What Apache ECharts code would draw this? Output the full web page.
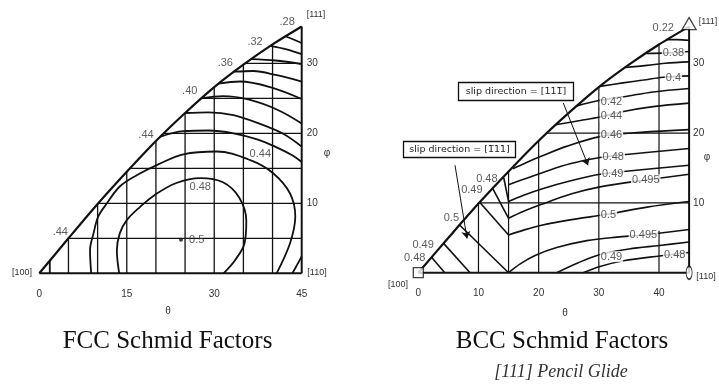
<!DOCTYPE html>
<html><head><meta charset="utf-8">
<script src="https://cdn.jsdelivr.net/npm/echarts@6/dist/echarts.min.js"></script>
<style>html,body{margin:0;padding:0;background:#fff}#c{width:719px;height:386px}</style>
</head><body><div id="c"></div>
<script>
// ---------- shared tick labels ----------
const fccThetaTicks = [0, 15, 30, 45];
const bccThetaTicks = [0, 10, 20, 30, 40];
const phiTicks = [10, 20, 30];

// ---------- stereographic triangle boundary ([100] -> [111]) ----------
const hypotenuse = [[0,0],[5,5.0],[10,9.9],[15,14.5],[20,18.9],[25,22.9],[30,26.6],[35,29.8],[40,32.7],[45,35.26]];
const baseEdge = [[0,0],[45,0]];
const rightEdge = [[45,0],[45,35.26]];

// ---------- FCC grid lines (theta, top phi) and (phi, start theta) ----------
const fccGridV = [[5,5.0],[10,9.9],[15,14.5],[20,18.9],[25,22.9],[30,26.6],[35,29.8],[40,32.7]];
const fccGridH = [[5,5.0],[10,10.2],[15,15.5],[20,21.3],[25,27.8],[30,35.3]];

// ---------- FCC contours ----------
const fccA1 = [[42.1,33.9],[43.6,33.4],[45,32.9]];
const fccA2 = [[39.6,32.5],[42.4,32.0],[45,31.3]];
const fccA3 = [[36.4,30.6],[40.5,30.4],[45,29.9]];
const fccA4 = [[33.3,28.8],[36.7,28.9],[40.7,28.3],[45,27.4]];
const fccA5 = [[30.7,27.1],[34.4,27.4],[39.6,26.6],[45,24.9]];
const fccA6 = [[27.8,25.0],[31.5,25.3],[36,24.8],[41,23.3],[45,21.4]];
const fccA7 = [[25,22.9],[29,23.0],[33.3,22.6],[38,21.3],[41.9,19.9],[45,18.1]];
const fccA8 = [[20.7,19.5],[24.7,20.3],[29,20.4],[33.3,20],[37.5,19.1],[40.7,18.0],[43.3,16.9],[45,15.9]];
const fcc046 = [[8.9,0],[8.7,3.3],[9.3,5.7],[10.1,8.1],[11.6,10],[13.8,12.4],[16.7,14],[20.5,15.6],[24.7,17],[30.4,17.4],[36.1,16.2],[40.1,14.3],[43,11.4],[43.9,8.1],[43,4.3],[40.7,0]];
const fcc048 = [[13.7,0],[13.3,3.3],[13.8,5.7],[15,7.6],[17.3,9.5],[19.8,11.2],[23.5,12.9],[27.6,13.6],[31.5,13],[34.3,10.8],[35.5,7.5],[35.2,4.3],[33.5,1.8],[31.6,0]];
const fccCorner110 = [[43.4,0],[44.2,1.2],[45,2.4]];
const fccCorner100 = [[1.8,0],[1.8,1.75]];
const fccMax = [[24.3,4.8]];
// label text, theta, phi, boxed
const fccLabels = [['.28',42.5,35.9,0],['.32',37,33.1,0],['.36',31.9,30.0,0],['.40',25.8,26.1,0],['.44',18.3,19.8,0],['.44',3.6,5.9,0],
  ['0.44',37.9,17.1,1],['0.48',27.6,12.3,1],['0.5',27.0,4.8,0]];

// ---------- BCC grid ----------
const bccGridV = [[10,0,10.0],[15,0,14.6],[20,0,18.9],[30,0,26.6],[40,0,6.0],[40,12.8,32.7]];
const bccGridH = [[10,10.2],[20,21.3]];

// ---------- BCC contours ----------
const bccB0 = [[41.2,33.4],[43,33.4],[45,33.3]];
const bccB1 = [[37.9,31.4],[41.3,31.5],[45,31.7]];
const bccB2 = [[34.3,29.4],[38,29.7],[41,30.0],[45,30.2]];
const bccB3 = [[30.2,26.7],[34,27.2],[37.4,27.6],[40.7,28.0],[45,28.2]];
const bccB4 = [[26.3,23.9],[30.2,24.7],[34.1,25.2],[39,25.9],[45,26.4]];
const bccB5 = [[22.8,21.2],[26.9,21.8],[30.2,22.3],[34.1,23.1],[39,23.8],[45,24.3]];
const bccR1 = [[15.7,14.9],[18,15.8],[20.2,16.6],[24.6,18.1],[30.2,19.5],[37,20.1],[45,20.5]];
const bccR2 = [[15,12.6],[17.5,13.4],[20.5,14.3],[25.2,15.6],[30.2,16.5],[34.1,16.9],[45,17.8]];
const bccR3 = [[15,10.2],[17.5,11.1],[20.5,12.0],[25.5,13.2],[30.2,14.1],[34.1,14.5],[45,15.4]];
const bccR4 = [[15,7.8],[17.5,8.8],[20.5,9.8],[25.5,11.3],[30.2,12.3],[37.9,13.3],[45,14.1]];
const bccR5 = [[15,5.4],[17.5,6.1],[20.5,6.8],[25.5,7.6],[31.6,8.4],[38,9.4],[45,10.2]];
const bccR6 = [[15,0],[17,1.3],[19.5,2.5],[23,3.6],[28,4.6],[33,5.1],[37.4,5.4],[45,6.2]];
const bccR7 = [[23,0],[26.5,1.4],[30.2,2.6],[35,3.4],[40.1,3.9],[45,4.4]];
const bccR8 = [[27.4,0],[30.2,0.9],[34.1,1.7],[40.1,2.4],[45,2.9]];
const bccL1 = [[2.2,2.2],[4.4,0]];
const bccL2 = [[4.2,4.2],[8.6,0]];
const bccL3 = [[6.9,6.8],[15,0]];
const bccL4 = [[10.2,10.1],[15,5.4]];
const bccL5 = [[12.4,12.0],[15,7.8]];
const bccL6 = [[14.2,13.6],[15,10.2]];
const bccLabels = [['0.22',40.7,35.0,0],['0.38',42.4,31.5,1],['0.4',42.4,27.9,1],['0.42',32.1,24.5,1],['0.44',32.1,22.4,1],['0.46',32.1,19.7,1],
  ['0.48',32.4,16.6,1],['0.49',32.3,14.2,1],['0.495',37.8,13.3,1],['0.5',31.6,8.3,1],['0.495',37.4,5.4,1],['0.49',32.1,2.3,1],['0.48',42.6,2.6,1],
  ['0.48',11.4,13.5,0],['0.49',8.9,11.9,0],['0.5',5.5,7.8,0],['0.49',0.8,4.0,0],['0.48',-0.6,2.05,0]];
const bccArrows = [[[24.1,24.3],[28.2,15.4]],[[6.1,15.4],[8.1,4.9]]];

// ---------- build ----------
const INK = '#111';
const series = [];
function line(g, pts, w, smooth) {
  series.push({type:'line', xAxisIndex:g, yAxisIndex:g, data:pts, symbol:'none', showSymbol:false,
    smooth: smooth === undefined ? 0.35 : smooth, clip:false, silent:true, z:3,
    lineStyle:{color:INK, width:w}});
}
// FCC (grid 0)
fccGridV.forEach(v => line(0, [[v[0],0],[v[0],v[1]]], 1.3, false));
fccGridH.forEach(h => line(0, [[h[1],h[0]],[45,h[0]]], 1.3, false));
[fccA1,fccA2,fccA3,fccA4,fccA5,fccA6,fccA7,fccA8,fcc046,fcc048,fccCorner110,fccCorner100].forEach(c => line(0, c, 1.8));
line(0, hypotenuse, 2.2, 0.3); line(0, baseEdge, 2, false); line(0, rightEdge, 2, false);
// BCC (grid 1)
bccGridV.forEach(v => line(1, [[v[0],v[1]],[v[0],v[2]]], 1.2, false));
bccGridH.forEach(h => line(1, [[h[1],h[0]],[45,h[0]]], 1.2, false));
[bccB0,bccB1,bccB2,bccB3,bccB4,bccB5,bccR1,bccR2,bccR3,bccR4,bccR5,bccR6,bccR7,bccR8].forEach(c => line(1, c, 1.6));
[bccL1,bccL2,bccL3,bccL4,bccL5,bccL6].forEach(c => line(1, c, 1.6, false));
line(1, hypotenuse, 2.2, 0.3); line(1, baseEdge, 2, false); line(1, rightEdge, 2, false);

function labelSeries(g, labels) {
  series.push({type:'scatter', xAxisIndex:g, yAxisIndex:g, symbolSize:1, clip:false, silent:true, z:6,
    itemStyle:{color:'rgba(0,0,0,0)'},
    data: labels.map(l => ({value:[l[1], l[2]], label:{show:true, position:'inside', formatter:l[0],
      fontFamily:'Liberation Sans, Arial, sans-serif', fontSize:11, color:'#333',
      backgroundColor: l[3] ? '#fff' : 'transparent', padding:[0,1]}}))});
}
labelSeries(0, fccLabels);
labelSeries(1, bccLabels);
// FCC maximum point
series.push({type:'scatter', xAxisIndex:0, yAxisIndex:0, data:fccMax, symbol:'circle', symbolSize:4, itemStyle:{color:INK}, z:7, silent:true});
// BCC pole markers
series.push({type:'scatter', xAxisIndex:1, yAxisIndex:1, clip:false, silent:true, z:8,
  itemStyle:{color:'#fff', borderColor:INK, borderWidth:1.3},
  data:[{value:[0,0], symbol:'rect', symbolSize:10},
        {value:[45,35.7], symbol:'triangle', symbolSize:[14,12]},
        {value:[45,0], symbol:'circle', symbolSize:[6,13]}]});
// BCC arrows
series.push({type:'line', xAxisIndex:1, yAxisIndex:1, data:[], silent:true,
  markLine:{silent:true, symbol:['none','arrow'], symbolSize:7, animation:false, label:{show:false},
    lineStyle:{color:INK, type:'solid', width:1},
    data: bccArrows.map(a => [{coord:a[0]},{coord:a[1]}])}});

const axLabel = {fontFamily:'Liberation Sans, Arial, sans-serif', fontSize:10, color:'#333'};
function xAxis(g, interval, ticks) {
  return {type:'value', gridIndex:g, min:0, max:45, interval:interval,
    axisLine:{show:false}, axisTick:{show:false}, splitLine:{show:false},
    axisLabel:Object.assign({margin:16, formatter:v => ticks.includes(v) ? String(v) : ''}, axLabel)};
}
function yAxis(g, margin) {
  return {type:'value', gridIndex:g, min:0, max:35.26, interval:10, position:'right',
    axisLine:{show:false}, axisTick:{show:false}, splitLine:{show:false},
    axisLabel:Object.assign({margin:margin, formatter:v => phiTicks.includes(v) ? String(v) : ''}, axLabel)};
}
function ctext(x, y, s, font, extra, z) {
  return {type:'text', x:x, y:y, z:z || 20, silent:true, style:Object.assign({text:s, fill:'#111', font:font, textAlign:'center', textVerticalAlign:'middle'}, extra || {})};
}
const sans10 = '10px "Liberation Sans", Arial, sans-serif';
const sans9 = '9px "Liberation Sans", Arial, sans-serif';
const boxFont = '9.5px "DejaVu Sans", "Liberation Sans", sans-serif';
const chart = echarts.init(document.getElementById('c'), null, {renderer:'canvas'});
chart.setOption({
  animation:false,
  backgroundColor:'#fff',
  grid:[{left:39.3, top:26.5, width:262.4, height:246.8},
        {left:418.3, top:26.6, width:270.8, height:246.1}],
  xAxis:[xAxis(0, 15, fccThetaTicks), xAxis(1, 10, bccThetaTicks)],
  yAxis:[yAxis(0, 5), yAxis(1, 4)],
  series: series,
  graphic:[
    ctext(167.5, 341, 'FCC Schmid Factors', '25px "Liberation Serif", "Times New Roman", serif'),
    ctext(562, 341, 'BCC Schmid Factors', '25px "Liberation Serif", "Times New Roman", serif'),
    ctext(561, 372, '[111] Pencil Glide', 'italic 18px "Liberation Serif", "Times New Roman", serif', {fill:'#333'}),
    ctext(168, 311, 'θ', sans10, {fill:'#333'}),
    ctext(565, 313, 'θ', sans10, {fill:'#333'}),
    ctext(327, 153, 'φ', sans10, {fill:'#333'}),
    ctext(707, 157, 'φ', sans10, {fill:'#333'}),
    ctext(22, 273, '[100]', sans9, {fill:'#333'}),
    ctext(317, 273, '[110]', sans9, {fill:'#333'}),
    ctext(316, 15, '[111]', sans9, {fill:'#333'}),
    ctext(398, 285, '[100]', sans9, {fill:'#333'}),
    ctext(706, 277, '[110]', sans9, {fill:'#333'}),
    ctext(708, 22, '[111]', sans9, {fill:'#333'}),
    {type:'rect', z:30, shape:{x:458.5, y:82.5, width:115, height:18}, style:{fill:'#fff', stroke:INK, lineWidth:1.3}, silent:true},
    ctext(516, 91.5, 'slip direction = [111\u0305]', boxFont, {fill:'#222'}, 31),
    {type:'rect', z:30, shape:{x:403.5, y:141.5, width:112, height:16}, style:{fill:'#fff', stroke:INK, lineWidth:1.3}, silent:true},
    ctext(459.5, 149.5, 'slip direction = [1\u030511]', boxFont, {fill:'#222'}, 31)
  ]
});
</script></body></html>
